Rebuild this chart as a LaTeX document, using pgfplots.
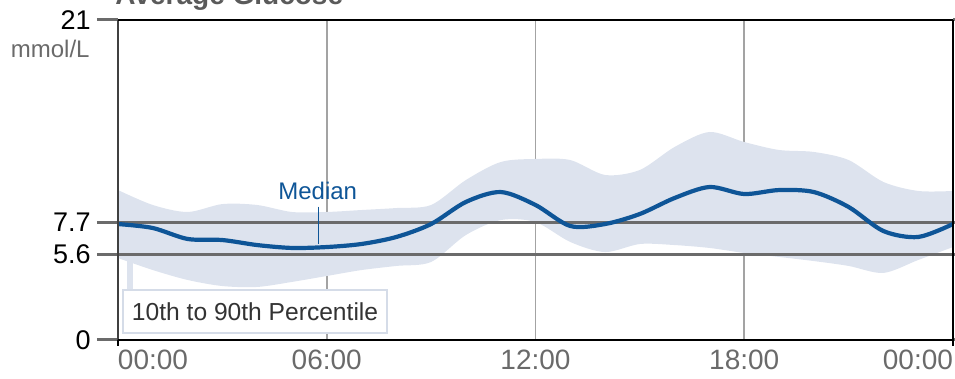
\documentclass[border=0pt]{standalone}
\usepackage{fontspec}
\setmainfont{Liberation Sans}
\usepackage{pgfplots}
\pgfplotsset{compat=1.18}
\usepgfplotslibrary{fillbetween}
\definecolor{band}{HTML}{DDE3EE}
\definecolor{med}{HTML}{0E5597}
\definecolor{refl}{HTML}{6B6B6B}
\definecolor{gridc}{HTML}{A3A3A3}
\definecolor{lab}{HTML}{6A6A6A}
\definecolor{legb}{HTML}{D5DCE8}
\definecolor{titlec}{HTML}{5A5A5A}
\newcommand{\yl}[1]{\fontsize{13.5}{14}\selectfont #1}
\begin{document}
\begin{tikzpicture}
\begin{axis}[
  at={(0,0)}, anchor=south west,
  scale only axis, width=417.5pt, height=160pt,
  xmin=0, xmax=24, ymin=0, ymax=21,
  clip=false,
  axis line style={draw=none},
  xtick={0,6,12,18,24},
  xticklabels={\makebox[0pt][l]{00:00},06:00,12:00,18:00,\makebox[0pt][r]{00:00}},
  xtick style={draw=none},
  xmajorgrids, grid style={draw=gridc, line width=0.9pt},
  ytick={0,5.6,7.7,21},
  yticklabels={\yl{0},\yl{5.6},\yl{7.7},\yl{21}},
  ytick style={draw=refl, line width=1.5pt},
  tick align=outside, major tick length=10.5pt,
  /pgf/number format/assume math mode=true,
  yticklabel style={anchor=east, inner sep=0pt, xshift=-3pt},
  xticklabel style={font=\fontsize{14}{14}\selectfont, text=lab, anchor=north, inner sep=0pt, yshift=5.5pt},
]
\addplot[name path=up, draw=none, smooth, tension=0.5] coordinates {
(0,9.84) (1,8.86) (2,8.40) (3,8.92) (4,8.86) (5,8.40) (6,8.40) (7,8.53) (8,8.66) (9,8.86)
(10,10.5) (11,11.68) (12,11.88) (13,11.81) (14,10.83) (15,11.16) (16,12.67) (17,13.65)
(18,12.99) (19,12.47) (20,12.34) (21,11.81) (22,10.37) (23,9.78) (24,9.78)};
\addplot[name path=lo, draw=none, smooth, tension=0.5] coordinates {
(0,5.38) (1,4.59) (2,3.94) (3,3.54) (4,3.48) (5,3.81) (6,4.20) (7,4.59) (8,4.86) (9,5.12)
(10,6.89) (11,7.87) (12,7.74) (13,6.43) (14,5.77) (15,6.30) (16,6.23) (17,6.04)
(18,5.71) (19,5.45) (20,5.18) (21,4.86) (22,4.40) (23,5.25) (24,6.10)};
\addplot[fill=band, draw=none] fill between[of=up and lo];
\fill[band] (axis cs:0.26,3.3) rectangle (axis cs:0.43,5.6);
\draw[refl, line width=1.5pt] (axis cs:0,7.7) -- (axis cs:24,7.7);
\draw[refl, line width=1.5pt] (axis cs:0,5.6) -- (axis cs:24,5.6);
\draw[legb, fill=white, line width=0.75pt] (axis cs:0.14,0.46) rectangle (axis cs:7.73,3.28);
\node[text=black!80, font=\fontsize{12.3}{12.3}\selectfont] at (axis cs:3.94,1.87) {10th to 90th Percentile};
\addplot[med, line width=2.1pt, smooth, tension=0.5] coordinates {
(0,7.61) (1,7.35) (2,6.63) (3,6.56) (4,6.23) (5,6.04) (6,6.10) (7,6.30) (8,6.76) (9,7.61)
(10,9.06) (11,9.71) (12,8.86) (13,7.48) (14,7.61) (15,8.27) (16,9.32) (17,10.04)
(18,9.58) (19,9.84) (20,9.71) (21,8.73) (22,7.15) (23,6.76) (24,7.61)};
\draw[med, line width=0.4pt] (axis cs:5.75,8.75) -- (axis cs:5.75,6.3);
\node[text=med, font=\fontsize{12}{12}\selectfont, anchor=base, inner sep=0pt] at (axis cs:5.74,9.19) {Median};
\draw[black!75, line width=1pt] (rel axis cs:0,0) -- (rel axis cs:0,1);
\draw[black, line width=1pt] (rel axis cs:0,0) -- (rel axis cs:1,0);
\draw[black, line width=0.9pt] (rel axis cs:0,1) -- (rel axis cs:1,1);
\draw[black, line width=0.9pt] (rel axis cs:1,0) -- (rel axis cs:1,1);
\draw[black, line width=1pt] (rel axis cs:0,0) -- ++(0,-3pt);
\draw[black, line width=1pt] (rel axis cs:1,0) -- ++(0,-3pt);
\end{axis}
\node[anchor=base west, inner sep=0pt, font=\bfseries\fontsize{14}{14}\selectfont, text=titlec] at (-1.5pt,167.5pt) {Average Glucose};
\node[anchor=east, inner sep=0pt, font=\fontsize{12}{12}\selectfont, text=lab] at (-14pt,145.5pt) {mmol/L};
\pgfresetboundingbox
\path[use as bounding box] (-59pt,-19.5pt) rectangle (418.5pt,170pt);
\end{tikzpicture}
\end{document}
